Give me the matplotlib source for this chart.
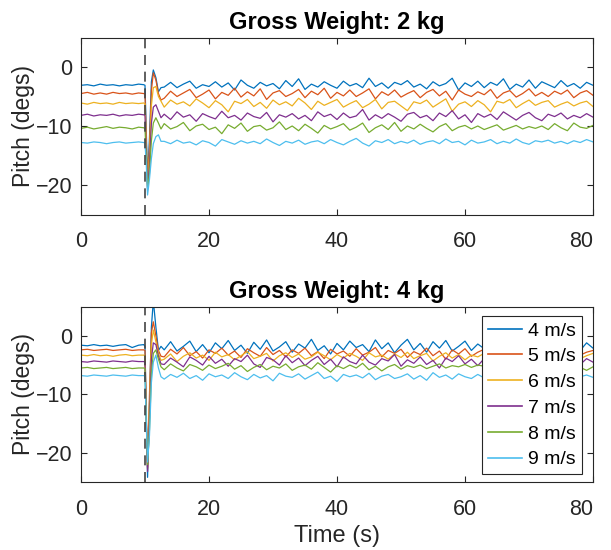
import matplotlib
matplotlib.use("Agg")
import matplotlib.pyplot as plt

plt.rcParams['font.family'] = ['Liberation Sans', 'DejaVu Sans']

# ---------------- data ----------------
speeds = ["4 m/s", "5 m/s", "6 m/s", "7 m/s", "8 m/s", "9 m/s"]
titles = ["Gross Weight: 2 kg", "Gross Weight: 4 kg"]
x_ticks = [0, 20, 40, 60, 80]
y_ticks = [-20, -10, 0]
event_time = 10

time = ([0, 1, 2, 3, 4, 5, 6, 7, 8, 9,
         9.8, 10.0, 10.2, 10.4, 10.7, 11.0, 11.3, 11.7, 12.1, 12.5]
        + list(range(13, 81)))

# ---- 2 kg ----
w2_4 = [-3.1, -3.0, -3.2, -2.9, -3.1, -3.0, -3.2, -3.0, -3.1, -2.9,
        -3.0, -3.1, -11.0, -19.0, -12.0, -2.5, -0.5, -1.8, -4.2, -3.5,
        -3.4, -2.6, -3.5, -2.9, -2.4, -3.6, -3.0, -3.3, -2.5, -3.4,
        -2.7, -3.9, -2.2, -3.1, -3.6, -2.6, -3.2, -2.8, -3.7, -2.3,
        -3.3, -2.0, -3.8, -2.9, -3.4, -2.5, -3.1, -3.6, -2.4, -3.2,
        -2.8, -3.5, -1.9, -3.3, -2.7, -3.6, -2.6, -3.0, -2.3, -3.4,
        -2.9, -3.7, -2.5, -3.2, -2.8, -1.9, -3.9, -2.7, -3.3, -2.4,
        -3.5, -2.6, -3.1, -2.0, -3.8, -2.9, -3.4, -2.2, -3.6, -2.5,
        -3.0, -3.5, -2.3, -3.3, -2.8, -3.6, -2.6, -3.1]
w2_5 = [-4.5, -4.3, -4.6, -4.4, -4.6, -4.3, -4.5, -4.4, -4.6, -4.4,
        -4.5, -4.6, -12.5, -19.8, -13.5, -4.0, -1.0, -2.2, -4.5, -5.6,
        -5.3, -4.1, -5.0, -4.4, -3.8, -5.2, -4.6, -3.9, -5.4, -4.3,
        -4.8, -3.6, -5.1, -4.2, -4.9, -3.7, -5.5, -4.4, -4.0, -5.0,
        -4.5, -3.8, -5.2, -4.1, -4.7, -3.6, -5.3, -4.3, -4.9, -3.9,
        -5.0, -4.4, -3.7, -5.4, -4.2, -4.8, -3.9, -5.1, -4.5, -4.0,
        -5.2, -4.3, -3.8, -4.9, -4.1, -5.6, -3.9, -4.6, -5.0, -4.2,
        -4.7, -3.8, -5.3, -4.4, -4.0, -5.1, -4.5, -3.7, -4.9, -4.3,
        -5.0, -4.1, -4.6, -3.9, -5.2, -4.4, -4.0, -4.8]
w2_6 = [-6.1, -6.3, -6.0, -6.2, -6.1, -6.3, -6.0, -6.2, -6.1, -6.2,
        -6.1, -6.2, -13.5, -20.3, -15.0, -6.5, -3.5, -3.3, -5.0, -5.8,
        -6.8, -5.6, -6.3, -5.9, -6.6, -5.4, -6.1, -6.9, -5.7, -6.4,
        -7.6, -5.8, -6.2, -5.5, -6.7, -6.0, -7.0, -5.6, -6.4, -5.9,
        -6.6, -5.3, -6.1, -7.2, -5.8, -6.5, -6.0, -5.5, -6.8, -6.2,
        -5.7, -6.9, -6.3, -5.5, -7.1, -6.0, -5.8, -6.6, -7.4, -5.9,
        -6.2, -5.6, -6.8, -6.1, -5.4, -7.5, -6.3, -5.9, -6.7, -5.7,
        -6.4, -7.6, -5.8, -6.1, -5.5, -6.9, -6.2, -5.6, -6.5, -6.0,
        -5.7, -6.8, -6.3, -5.9, -6.6, -6.1, -5.8, -6.7]
w2_7 = [-8.2, -8.0, -8.3, -8.1, -8.2, -8.0, -8.3, -8.1, -8.2, -8.0,
        -8.1, -8.2, -14.5, -20.8, -16.5, -9.5, -6.8, -6.4, -7.5, -8.6,
        -8.0, -8.9, -7.6, -8.5, -8.1, -9.2, -7.9, -8.4, -8.8, -7.5,
        -8.6, -8.2, -9.0, -7.8, -8.4, -8.7, -7.7, -9.3, -8.1, -8.5,
        -7.9, -8.8, -8.2, -9.1, -7.6, -8.4, -8.0, -8.9, -7.8, -8.6,
        -8.3, -7.2, -9.0, -8.1, -8.7, -7.9, -8.5, -9.2, -8.0, -7.7,
        -8.6, -8.2, -9.1, -7.8, -8.4, -7.4, -8.8, -8.1, -9.4, -7.9,
        -8.5, -8.0, -8.9, -7.6, -8.3, -9.0, -8.2, -7.7, -8.6, -9.1,
        -8.0, -8.4, -7.8, -8.8, -8.2, -8.6, -7.9, -8.5]
w2_8 = [-10.4, -10.2, -10.5, -10.3, -10.1, -10.4, -10.2, -10.3, -10.5, -10.2,
        -10.3, -10.4, -15.5, -20.5, -18.0, -12.5, -9.5, -8.6, -9.5, -10.5,
        -9.6, -10.5, -10.1, -9.4, -10.8, -10.0, -9.7, -10.6, -10.2, -11.3,
        -9.8, -10.4, -9.5, -10.9, -10.1, -9.9, -10.7, -10.3, -9.3, -10.6,
        -10.0, -10.8, -9.7, -10.4, -11.2, -9.9, -10.5, -10.1, -9.6, -10.7,
        -10.2, -9.5, -11.1, -10.3, -9.8, -10.6, -9.4, -10.9, -10.0, -10.5,
        -9.7, -10.4, -11.0, -10.1, -9.6, -10.8, -10.2, -9.9, -10.5, -10.0,
        -10.6, -10.2, -9.8, -10.7, -10.3, -9.9, -10.5, -10.1, -10.4, -10.0,
        -10.6, -9.6, -10.3, -10.8, -9.5, -10.2, -10.4, -9.9]
w2_9 = [-12.8, -12.9, -12.7, -12.8, -13.0, -12.8, -12.7, -12.9, -12.8, -12.7,
        -12.8, -12.9, -16.5, -21.7, -19.0, -15.5, -13.0, -11.8, -11.5, -12.6,
        -12.6, -13.0, -12.4, -12.9, -12.7, -13.2, -12.5, -12.8, -13.4, -12.3,
        -12.7, -13.1, -12.5, -12.9, -12.6, -13.0, -12.2, -12.8, -13.3, -12.6,
        -12.9, -12.4, -13.1, -12.7, -12.5, -13.0, -12.3, -12.8, -13.2, -12.6,
        -12.1, -12.9, -13.4, -12.5, -12.8, -12.3, -13.0, -12.6, -12.9, -12.4,
        -13.1, -12.7, -12.5, -13.0, -12.2, -12.8, -12.6, -13.2, -12.4, -12.9,
        -12.7, -12.3, -13.0, -12.6, -12.9, -12.2, -12.8, -13.1, -12.5, -12.7,
        -12.4, -12.9, -12.6, -13.0, -12.5, -12.8, -12.3, -12.7]

# ---- 4 kg ----
w4_4 = [-1.6, -1.7, -1.5, -1.7, -1.6, -1.8, -1.6, -1.5, -2.0, -1.6,
        -1.5, -1.8, -14.0, -24.2, -12.0, 1.5, 6.0, 1.5, -2.5, -1.8,
        -2.4, -1.0, -2.6, -1.8, -0.9, -2.7, -1.5, -2.9, -1.2, -2.2,
        -0.8, -2.5, -1.6, -3.0, -1.1, -2.3, -0.7, -2.6, -1.9, -1.0,
        -2.8, -1.4, -2.1, -0.6, -2.5, -1.7, -3.1, -1.3, -2.4, -0.9,
        -2.0, -1.5, -2.7, -0.7, -2.2, -1.2, -2.9, -1.6, -0.6, -2.4,
        -1.3, -2.8, -1.0, -2.1, -0.8, -2.6, -1.8, -0.9, -2.5, -1.4,
        -2.2, -0.7, -2.7, -1.5, -2.0, -1.1, -2.6, -1.7, -0.9, -2.3,
        -1.4, -2.8, -1.0, -2.0, -1.6, -2.5, -1.2, -2.1]
w4_5 = [-2.4, -2.3, -2.5, -2.4, -2.3, -2.5, -2.4, -2.3, -2.5, -2.4,
        -2.4, -2.5, -13.0, -22.5, -10.0, 0.5, 2.4, 0.0, -2.5, -3.5,
        -3.6, -2.3, -3.1, -2.0, -3.4, -2.7, -3.8, -2.4, -3.0, -2.1,
        -3.3, -2.6, -3.7, -2.2, -2.9, -3.5, -2.0, -3.2, -2.5, -3.6,
        -2.4, -3.0, -2.1, -3.4, -2.7, -3.9, -2.3, -3.1, -2.6, -3.5,
        -2.2, -3.3, -2.8, -2.0, -3.6, -2.5, -3.0, -2.3, -3.7, -2.7,
        -3.2, -2.1, -3.4, -2.6, -4.0, -2.4, -3.1, -2.2, -3.5, -2.8,
        -2.3, -3.3, -2.7, -3.6, -2.1, -3.0, -2.5, -3.4, -2.2, -3.1,
        -2.6, -3.5, -2.4, -3.0, -2.2, -3.3, -2.8, -2.5]
w4_6 = [-3.3, -3.4, -3.2, -3.4, -3.3, -3.5, -3.3, -3.2, -3.4, -3.3,
        -3.3, -3.4, -14.0, -22.8, -12.0, -1.5, 1.0, -1.0, -3.0, -4.2,
        -4.0, -3.1, -4.4, -3.5, -2.9, -3.8, -3.3, -4.2, -2.8, -3.6,
        -3.2, -4.1, -3.4, -2.7, -3.9, -3.5, -3.0, -4.3, -3.4, -2.9,
        -3.7, -3.1, -4.0, -3.6, -2.8, -3.4, -4.1, -3.2, -3.8, -3.0,
        -3.5, -4.2, -2.9, -3.6, -3.3, -4.0, -3.1, -3.7, -2.8, -3.9,
        -3.4, -3.0, -4.3, -3.5, -2.9, -3.8, -3.2, -4.1, -3.3, -3.6,
        -3.0, -3.9, -3.4, -2.8, -3.7, -3.2, -4.0, -3.5, -3.1, -3.8,
        -3.3, -3.7, -2.9, -3.6, -3.2, -3.9, -3.4, -3.0]
w4_7 = [-4.4, -4.5, -4.3, -4.4, -4.5, -4.3, -4.4, -4.5, -4.3, -4.4,
        -4.4, -4.5, -14.5, -23.2, -14.0, -4.0, -1.2, -1.5, -3.5, -4.8,
        -4.9, -3.8, -4.5, -5.3, -3.6, -4.2, -5.0, -3.5, -4.7, -4.0,
        -5.2, -3.9, -4.4, -3.3, -4.8, -5.4, -3.7, -4.1, -5.0, -3.4,
        -4.6, -3.8, -5.1, -4.2, -3.5, -4.9, -4.0, -5.3, -3.6, -4.4,
        -4.8, -3.3, -4.5, -5.0, -3.9, -4.3, -3.2, -5.2, -4.1, -4.7,
        -3.6, -4.9, -4.2, -5.5, -3.8, -4.4, -3.4, -4.8, -4.0, -5.1,
        -3.9, -4.6, -3.5, -5.0, -4.1, -4.5, -3.6, -4.9, -4.3, -3.8,
        -4.7, -4.0, -5.0, -3.7, -4.4, -4.9, -3.9, -4.5]
w4_8 = [-5.5, -5.4, -5.6, -5.5, -5.4, -5.6, -5.5, -5.4, -5.6, -5.5,
        -5.5, -5.6, -14.5, -22.0, -16.0, -6.5, -3.0, -2.4, -4.0, -5.3,
        -5.8, -4.8, -5.5, -6.0, -4.9, -5.3, -5.9, -5.0, -5.6, -5.2,
        -4.7, -5.7, -5.1, -6.1, -5.4, -4.9, -5.8, -5.2, -5.5, -4.8,
        -5.9, -5.3, -5.0, -5.7, -4.6, -5.4, -6.2, -5.1, -5.6, -5.0,
        -5.5, -4.7, -5.8, -5.2, -6.0, -5.3, -4.9, -5.7, -5.1, -5.4,
        -5.0, -5.6, -5.2, -4.8, -5.5, -5.1, -5.3, -4.9, -5.4, -5.0,
        -5.2, -5.5, -4.9, -5.3, -5.7, -5.0, -5.4, -5.8, -5.1, -5.5,
        -4.9, -5.6, -5.2, -5.8, -5.0, -5.4, -5.9, -5.3]
w4_9 = [-6.8, -6.9, -6.7, -6.8, -6.9, -6.7, -6.8, -6.9, -6.7, -6.8,
        -6.8, -6.9, -15.0, -21.6, -17.0, -8.0, -4.5, -3.3, -5.5, -7.0,
        -7.4, -6.6, -7.1, -6.4, -7.3, -6.8, -7.6, -6.5, -7.0, -6.7,
        -7.3, -6.3, -7.0, -7.5, -6.6, -7.2, -6.8, -7.7, -6.4, -6.9,
        -7.1, -6.5, -7.4, -6.8, -6.2, -7.3, -6.9, -7.8, -6.6, -7.0,
        -6.7, -7.2, -6.4, -7.5, -6.9, -6.6, -7.3, -7.0, -6.5, -7.4,
        -6.8, -7.6, -6.3, -7.1, -6.7, -7.4, -6.5, -7.0, -7.3, -6.6,
        -7.2, -6.8, -7.5, -6.4, -7.0, -6.7, -7.3, -6.6, -7.1, -6.9,
        -6.5, -7.2, -6.8, -7.4, -6.6, -7.0, -6.7, -7.1]

panels = [[w2_4, w2_5, w2_6, w2_7, w2_8, w2_9],
          [w4_4, w4_5, w4_6, w4_7, w4_8, w4_9]]

colors = ["#0072BD", "#D95319", "#EDB120", "#7E2F8E", "#77AC30", "#4DBEEE"]
axcol = "#262626"

fig = plt.figure(figsize=(6.11, 5.5), dpi=100)
ax1 = fig.add_axes([81 / 611, 1 - 214.5 / 550, 512 / 611, 177 / 550])
ax2 = fig.add_axes([81 / 611, 1 - 482 / 550, 512 / 611, 175.4 / 550])

for i, ax in enumerate([ax1, ax2]):
    for s, c, lab in zip(panels[i], colors, speeds):
        ax.plot(time, s, color=c, lw=0.9, label=lab)
    ax.axvline(event_time, color="#444444", ls=(0, (6, 4)), lw=1.2)
    ax.set_xlim(0, 80)
    ax.set_ylim(-25, 5)
    ax.set_xticks(x_ticks)
    ax.set_yticks(y_ticks)
    ax.tick_params(direction="in", length=4, width=0.8, colors=axcol,
                   labelsize=15.5, top=True, right=True)
    ax.tick_params(axis="x", pad=12)
    ax.tick_params(axis="y", pad=6)
    ax.get_xticklabels()[-1].set_horizontalalignment("right")
    for sp in ax.spines.values():
        sp.set_color(axcol)
        sp.set_linewidth(0.8)
    ax.set_title(titles[i], fontsize=17, fontweight="bold", pad=6)
    ax.set_ylabel("Pitch (degs)", fontsize=16.5, color=axcol, labelpad=1)

ax2.set_xlabel("Time (s)", fontsize=17, color=axcol, labelpad=4)

leg = ax2.legend(loc="upper right", bbox_to_anchor=(0.978, 0.946),
                 fontsize=14, frameon=True, fancybox=False, framealpha=1,
                 edgecolor=axcol, handlelength=1.75, labelspacing=0.42,
                 borderpad=0.3, handletextpad=0.3, borderaxespad=0)
leg.get_frame().set_linewidth(0.8)
for ln in leg.get_lines():
    ln.set_linewidth(1.2)

fig.savefig("out.png", dpi=100)
